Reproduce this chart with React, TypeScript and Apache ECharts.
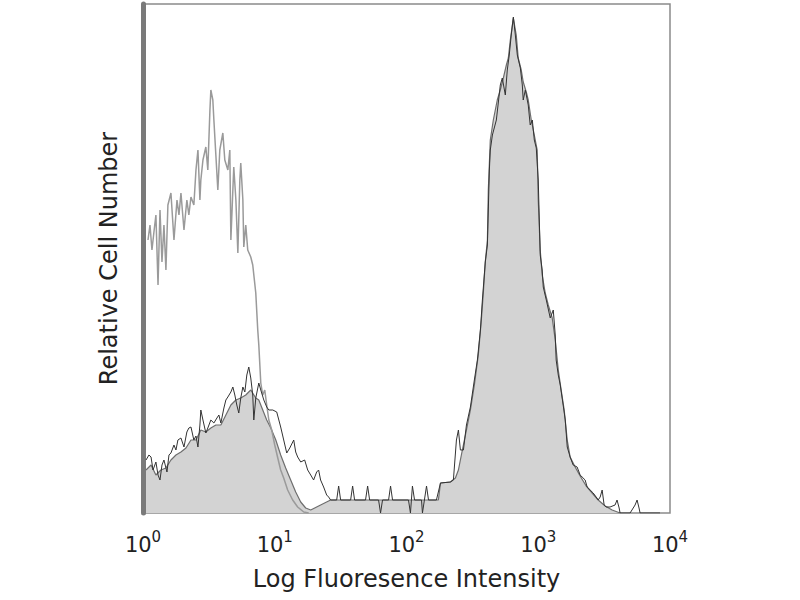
import React, { useEffect, useRef } from "react";
import * as echarts from "echarts";

// x: log10 fluorescence intensity (decades), y: relative cell count
const decadeTicks = [0, 1, 2, 3, 4];

const controlX = [0.038,0.053,0.068,0.083,0.098,0.114,0.129,0.144,0.159,0.174,0.189,0.212,0.235,0.258,0.273,0.288,0.311,0.333,0.348,0.364,0.386,0.402,0.417,0.432,0.439,0.455,0.477,0.492,0.508,0.515,0.530,0.538,0.553,0.568,0.583,0.606,0.621,0.644,0.659,0.667,0.682,0.689,0.705,0.720,0.735,0.742,0.758,0.765,0.780,0.795,0.818,0.833,0.856,0.871,0.879,0.894,0.909,0.924,0.939,0.955,0.977,1.000,1.023,1.045,1.068,1.098,1.136,1.174,1.220,1.258];
const controlY = [273,288,263,281,298,228,303,251,288,243,308,320,273,313,298,320,283,313,298,316,308,343,363,313,333,353,366,343,403,423,413,393,358,323,363,380,353,343,363,273,323,346,313,260,333,350,313,266,288,263,256,248,220,183,168,130,118,123,108,93,83,68,55,43,35,23,13,6,1,0];

const stainedFillX = [0.023,0.061,0.098,0.136,0.174,0.212,0.250,0.288,0.326,0.364,0.402,0.439,0.477,0.515,0.553,0.591,0.629,0.667,0.705,0.742,0.780,0.818,0.856,0.879,0.909,0.939,0.970,1.008,1.045,1.083,1.121,1.159,1.197,1.235,1.273,1.348,1.424,2.242,2.258,2.333,2.371,2.394,2.424,2.455,2.485,2.515,2.545,2.568,2.583,2.598,2.614,2.621,2.636,2.659,2.689,2.712,2.735,2.758,2.773,2.788,2.811,2.833,2.848,2.871,2.886,2.909,2.924,2.947,2.970,2.992,3.000,3.015,3.030,3.053,3.076,3.106,3.129,3.152,3.174,3.197,3.220,3.242,3.280,3.318,3.364,3.409,3.455,3.508,3.561,3.621];
const stainedFillY = [43,48,38,43,45,53,58,61,65,73,73,83,81,85,88,88,98,108,113,115,118,123,115,113,103,93,85,73,58,45,33,21,11,5,3,8,13,13,30,31,35,43,63,83,103,128,158,193,220,251,273,323,373,393,413,423,435,448,455,473,495,478,455,443,431,421,413,393,378,363,313,263,238,220,208,195,173,143,123,103,73,56,46,37,27,20,13,7,3,0];

const stainedLineX = [0.023,0.045,0.061,0.076,0.098,0.114,0.129,0.144,0.159,0.182,0.197,0.212,0.235,0.250,0.265,0.288,0.311,0.333,0.348,0.364,0.386,0.402,0.417,0.432,0.439,0.455,0.477,0.492,0.515,0.538,0.561,0.576,0.591,0.614,0.629,0.644,0.667,0.682,0.697,0.712,0.727,0.742,0.758,0.773,0.788,0.803,0.818,0.833,0.841,0.856,0.879,0.894,0.917,0.939,0.955,0.985,1.015,1.045,1.068,1.091,1.114,1.144,1.159,1.174,1.197,1.227,1.250,1.273,1.295,1.318,1.333,1.348,1.371,1.394,1.409,1.424,1.470,1.485,1.500,1.576,1.591,1.606,1.689,1.705,1.720,1.788,1.803,1.818,1.864,1.879,1.894,2.015,2.030,2.045,2.061,2.114,2.121,2.136,2.152,2.167,2.227,2.258,2.333,2.356,2.379,2.394,2.409,2.432,2.455,2.485,2.515,2.538,2.561,2.576,2.598,2.614,2.629,2.636,2.652,2.682,2.712,2.727,2.750,2.765,2.780,2.795,2.811,2.826,2.841,2.864,2.879,2.886,2.902,2.924,2.939,2.955,2.970,2.985,3.000,3.015,3.030,3.038,3.061,3.091,3.114,3.129,3.136,3.152,3.167,3.189,3.205,3.220,3.242,3.265,3.295,3.318,3.333,3.356,3.371,3.394,3.417,3.439,3.455,3.470,3.485,3.500,3.515,3.545,3.583,3.598,3.614,3.621,3.697,3.735,3.750,3.765,3.773,3.924];
const stainedLineY = [53,58,56,43,51,38,33,48,53,41,58,60,68,63,73,75,66,81,85,86,73,77,66,88,103,93,80,85,93,90,95,98,90,105,113,116,121,126,118,108,100,115,126,121,138,146,135,118,93,115,130,123,113,106,103,103,101,86,73,60,65,73,61,56,51,53,43,38,33,41,43,33,26,18,16,13,13,27,13,13,27,13,13,27,13,13,0,13,13,27,13,13,0,27,13,13,0,13,27,13,13,30,31,33,73,83,63,63,88,106,133,153,183,213,251,268,343,363,378,393,428,435,418,443,458,478,496,478,458,445,428,413,423,408,388,393,373,365,333,258,243,226,213,195,203,178,153,138,128,108,93,66,56,48,46,38,36,33,26,23,20,16,13,16,23,8,6,6,8,13,5,0,0,8,13,5,0,0];

const pairs = (xs: number[], ys: number[]) => xs.map((x, i) => [x, ys[i]]);

export default function App() {
  const ref = useRef<HTMLDivElement>(null);
  useEffect(() => {
    if (!ref.current) return;
    const chart = echarts.init(ref.current, null, { renderer: "svg" });
    const font = "DejaVu Sans";
    chart.setOption({
      animation: false,
      backgroundColor: "#ffffff",
      grid: {
        left: 143,
        right: 130,
        top: 4,
        bottom: 87,
        show: true,
        borderColor: "#8a8a8a",
        borderWidth: 1.5,
        backgroundColor: "transparent",
      },
      xAxis: {
        type: "value",
        min: decadeTicks[0],
        max: decadeTicks[decadeTicks.length - 1],
        interval: 1,
        name: "Log Fluoresence Intensity",
        nameLocation: "middle",
        nameGap: 54,
        nameTextStyle: { fontFamily: font, fontSize: 24, color: "#222" },
        axisLine: { show: false },
        axisTick: { show: false },
        splitLine: { show: false },
        axisLabel: {
          margin: 16,
          formatter: (v: number) => `{b|10}{s|${v}}`,
          rich: {
            b: { fontFamily: font, fontSize: 21, color: "#222", lineHeight: 26, verticalAlign: "bottom" },
            s: { fontFamily: font, fontSize: 15, color: "#222", lineHeight: 26, verticalAlign: "top", padding: [0, 0, 12, 0] },
          },
        },
      },
      yAxis: {
        type: "value",
        min: 0,
        max: 509,
        name: "Relative Cell Number",
        nameLocation: "middle",
        nameGap: 22,
        nameRotate: 90,
        nameTextStyle: { fontFamily: font, fontSize: 24, color: "#222" },
        axisLine: { show: true, lineStyle: { color: "#7a7a7a", width: 5 } },
        axisTick: { show: false },
        axisLabel: { show: false },
        splitLine: { show: false },
      },
      series: [
        {
          name: "stained",
          type: "line",
          data: pairs(stainedFillX, stainedFillY),
          showSymbol: false,
          lineStyle: { color: "#6e6e6e", width: 1.2 },
          areaStyle: { color: "#d3d3d3", opacity: 1 },
          z: 1,
        },
        {
          name: "control",
          type: "line",
          data: pairs(controlX, controlY),
          showSymbol: false,
          lineStyle: { color: "#9a9a9a", width: 1.5 },
          z: 2,
        },
        {
          name: "stained replicate",
          type: "line",
          data: pairs(stainedLineX, stainedLineY),
          showSymbol: false,
          lineStyle: { color: "#333333", width: 1 },
          z: 3,
        },
      ],
    });
    return () => chart.dispose();
  }, []);
  return <div ref={ref} style={{ width: 800, height: 600, position: "absolute", left: 0, top: 0 }} />;
}
